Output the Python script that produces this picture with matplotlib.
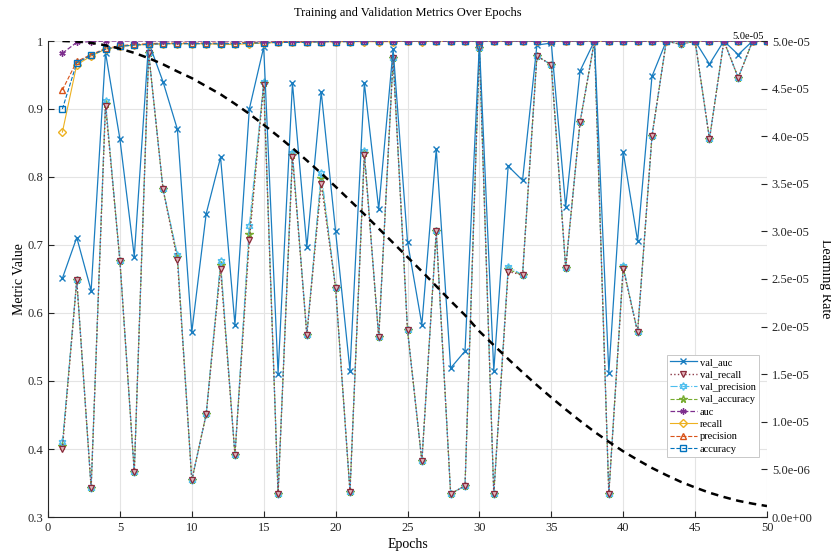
import matplotlib
matplotlib.use("Agg")
import matplotlib.pyplot as plt
from matplotlib.ticker import FormatStrFormatter, MultipleLocator
import numpy as np

plt.rcParams['font.family'] = ['Liberation Serif', 'DejaVu Serif']

epochs = list(range(1, 51))

# validation metrics
val_auc = [0.651, 0.711, 0.633, 0.983, 0.856, 0.683, 0.998, 0.940, 0.870, 0.572,
           0.746, 0.829, 0.583, 0.900, 0.991, 0.511, 0.938, 0.697, 0.925, 0.720,
           0.515, 0.938, 0.753, 0.988, 0.705, 0.583, 0.841, 0.519, 0.544, 0.996,
           0.515, 0.816, 0.795, 0.994, 0.997, 0.756, 0.956, 1.000, 0.512, 0.837,
           0.706, 0.948, 1.000, 1.000, 1.000, 0.966, 1.000, 0.980, 1.000, 1.000]
val_recall = [0.400, 0.648, 0.343, 0.905, 0.677, 0.366, 0.982, 0.782, 0.678, 0.354,
              0.451, 0.665, 0.391, 0.707, 0.936, 0.334, 0.829, 0.568, 0.790, 0.637,
              0.337, 0.833, 0.564, 0.975, 0.575, 0.382, 0.720, 0.334, 0.346, 0.990,
              0.334, 0.661, 0.656, 0.978, 0.965, 0.666, 0.881, 1.000, 0.334, 0.665,
              0.572, 0.860, 1.000, 0.995, 1.000, 0.856, 1.000, 0.946, 1.000, 1.000]
val_precision = [0.410, 0.648, 0.343, 0.912, 0.677, 0.366, 0.982, 0.782, 0.686, 0.354,
                 0.451, 0.676, 0.391, 0.728, 0.940, 0.334, 0.836, 0.568, 0.806, 0.637,
                 0.337, 0.838, 0.564, 0.975, 0.575, 0.382, 0.720, 0.334, 0.346, 0.990,
                 0.334, 0.668, 0.656, 0.978, 0.965, 0.666, 0.881, 1.000, 0.334, 0.669,
                 0.572, 0.860, 1.000, 0.995, 1.000, 0.856, 1.000, 0.946, 1.000, 1.000]
val_accuracy = [0.405, 0.648, 0.343, 0.908, 0.677, 0.366, 0.982, 0.782, 0.682, 0.354,
                0.451, 0.670, 0.391, 0.716, 0.938, 0.334, 0.833, 0.568, 0.798, 0.637,
                0.337, 0.835, 0.564, 0.975, 0.575, 0.382, 0.720, 0.334, 0.346, 0.990,
                0.334, 0.664, 0.656, 0.978, 0.965, 0.666, 0.881, 1.000, 0.334, 0.667,
                0.572, 0.860, 1.000, 0.995, 1.000, 0.856, 1.000, 0.946, 1.000, 1.000]

# training metrics
auc = [0.982, 0.998, 0.999, 1.000, 1.000, 1.000, 1.000, 1.000, 1.000, 1.000,
       1.000, 1.000, 1.000, 1.000, 1.000, 1.000, 1.000, 1.000, 1.000, 1.000,
       1.000, 1.000, 1.000, 1.000, 1.000, 1.000, 1.000, 1.000, 1.000, 1.000,
       1.000, 1.000, 1.000, 1.000, 1.000, 1.000, 1.000, 1.000, 1.000, 1.000,
       1.000, 1.000, 1.000, 1.000, 1.000, 1.000, 1.000, 1.000, 1.000, 1.000]
recall = [0.866, 0.965, 0.978, 0.988, 0.992, 0.994, 0.995, 0.996, 0.996, 0.996,
          0.996, 0.995, 0.995, 0.996, 0.997, 0.998, 0.998, 0.998, 0.999, 0.999,
          0.999, 0.999, 0.999, 0.999, 1.000, 0.999, 1.000, 1.000, 1.000, 1.000,
          1.000, 1.000, 1.000, 1.000, 1.000, 1.000, 1.000, 1.000, 1.000, 1.000,
          1.000, 1.000, 1.000, 1.000, 1.000, 1.000, 1.000, 1.000, 1.000, 1.000]
precision = [0.928, 0.970, 0.980, 0.989, 0.993, 0.995, 0.996, 0.997, 0.997, 0.997,
             0.997, 0.997, 0.997, 0.998, 0.998, 0.999, 0.999, 0.999, 0.999, 0.999,
             1.000, 1.000, 1.000, 1.000, 1.000, 1.000, 1.000, 1.000, 1.000, 1.000,
             1.000, 1.000, 1.000, 1.000, 1.000, 1.000, 1.000, 1.000, 1.000, 1.000,
             1.000, 1.000, 1.000, 1.000, 1.000, 1.000, 1.000, 1.000, 1.000, 1.000]
accuracy = [0.900, 0.968, 0.979, 0.988, 0.992, 0.994, 0.995, 0.996, 0.996, 0.996,
            0.996, 0.996, 0.996, 0.997, 0.997, 0.998, 0.998, 0.998, 0.999, 0.999,
            0.999, 1.000, 1.000, 1.000, 1.000, 1.000, 1.000, 1.000, 1.000, 1.000,
            1.000, 1.000, 1.000, 1.000, 1.000, 1.000, 1.000, 1.000, 1.000, 1.000,
            1.000, 1.000, 1.000, 1.000, 1.000, 1.000, 1.000, 1.000, 1.000, 1.000]

# learning rate, in units of 1e-5
lr_e5 = [5.000, 4.995, 4.980, 4.955, 4.920, 4.875, 4.820, 4.755, 4.680, 4.610,
         4.525, 4.440, 4.340, 4.235, 4.120, 4.000, 3.875, 3.745, 3.610, 3.470,
         3.325, 3.180, 3.030, 2.880, 2.730, 2.580, 2.425, 2.270, 2.120, 1.950,
         1.805, 1.660, 1.520, 1.385, 1.255, 1.130, 1.010, 0.895, 0.790, 0.690,
         0.600, 0.515, 0.440, 0.370, 0.310, 0.255, 0.210, 0.170, 0.140, 0.115]
lr = np.array(lr_e5) * 1e-5

fig = plt.figure(figsize=(8.31, 5.54), dpi=100)
ax = fig.add_axes([48 / 831, 37 / 554, 719 / 831, 476 / 554])

ms = 4.5
ax.plot(epochs, val_auc, '-', color='#1a7dc0', lw=0.9, marker='x', ms=ms,
        zorder=2.6, label='val_auc')
ax.plot(epochs, val_recall, ':', color='#8c3a48', lw=1.0, marker='v', ms=ms + 0.5,
        mfc='#e3b5bb', mec='#8a2a3a', mew=0.9, zorder=2.5, label='val_recall')
ax.plot(epochs, val_precision, '-.', color='#4DBEEE', lw=0.8, marker=(6, 1, 0), ms=ms + 1,
        mfc='none', zorder=2.2, label='val_precision')
ax.plot(epochs, val_accuracy, '--', color='#77AC30', lw=0.8, marker='*', ms=ms + 1,
        mfc='none', zorder=2.1, label='val_accuracy')
ax.plot(epochs, auc, '--', color='#7E2F8E', lw=0.9, marker=(6, 2, 0), ms=ms,
        zorder=2.9, label='auc')
ax.plot(epochs, recall, '-', color='#EDB120', lw=0.8, marker='D', ms=ms - 0.5,
        mfc='none', zorder=2.7, label='recall')
ax.plot(epochs, precision, '--', color='#D95319', lw=0.8, marker='^', ms=ms,
        mfc='none', zorder=2.75, label='precision')
ax.plot(epochs, accuracy, '--', color='#0072BD', lw=0.8, marker='s', ms=ms - 0.5,
        mfc='none', zorder=2.8, label='accuracy')

ax.set_xlim(0, 50)
ax.set_ylim(0.3, 1.0)
ax.xaxis.set_major_locator(MultipleLocator(5))
ax.yaxis.set_major_locator(MultipleLocator(0.1))
ax.yaxis.set_major_formatter(FormatStrFormatter('%g'))
ax.grid(True, color='#e4e4e4', lw=0.8)
ax.set_axisbelow(True)
ax.tick_params(direction='in', length=4, labelsize=9, colors='#262626')
for s in ['top', 'right']:
    ax.spines[s].set_visible(False)
for s in ['left', 'bottom']:
    ax.spines[s].set_color('#262626')
    ax.spines[s].set_linewidth(0.8)
ax.set_xlabel('Epochs', fontsize=10, labelpad=3)
ax.set_ylabel('Metric Value', fontsize=10, labelpad=1)
ax.set_title('Training and Validation Metrics Over Epochs', fontsize=9, pad=18)

ax2 = ax.twinx()
ax2.plot(epochs, lr, color='black', lw=1.8, dashes=(3, 2.2))
ax2.set_ylim(0, 5e-5)
ax2.yaxis.set_major_locator(MultipleLocator(5e-6))
ax2.yaxis.set_major_formatter(FormatStrFormatter('%.1e'))
ax2.tick_params(direction='in', length=4, labelsize=9, colors='#262626')
for s in ['top', 'right', 'left', 'bottom']:
    ax2.spines[s].set_visible(False)
ax2.set_ylabel('Learning Rate', fontsize=10, rotation=-90, labelpad=14)
ax2.text(48.7, 5.0e-5, '5.0e-05', fontsize=7.5, ha='center', va='bottom')

h, l = ax.get_legend_handles_labels()
leg = ax2.legend(h, l, loc='lower right', bbox_to_anchor=(0.989, 0.126),
                 fontsize=7.5, frameon=True, fancybox=False, framealpha=1,
                 edgecolor='#c8c8c8', labelspacing=0.3, handlelength=2.6,
                 handletextpad=0.3, borderpad=0.3, borderaxespad=0)
leg.get_frame().set_linewidth(0.7)

fig.savefig('out.png', dpi=100)
